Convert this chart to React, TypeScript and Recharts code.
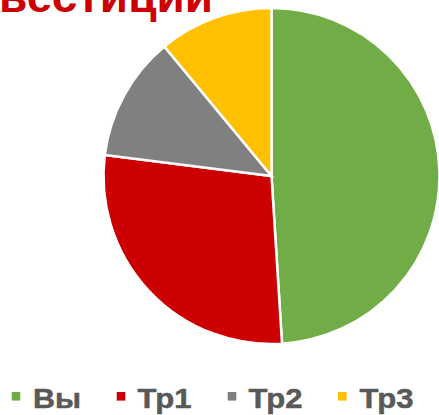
import React from "react";
import { PieChart, Pie, Cell, Legend, Customized } from "recharts";

const categories = ["Вы", "Тр1", "Тр2", "Тр3"];
const values = [49, 28, 12, 11];
const colors = ["#70AD47", "#CC0000", "#808080", "#FFC000"];
const title = "Инвестиции";

const data = categories.map((name, i) => ({ name, value: values[i], color: colors[i] }));

const Title = () => (
  <text
    x={213}
    y={12}
    textAnchor="end"
    fill="#CC0000"
    fontFamily="'Liberation Sans', Arial, sans-serif"
    fontWeight="bold"
    fontSize={46}
  >
    {title}
  </text>
);

// legend layout (square x, text start x, text width)
const legendSquareX = [11.7, 116.7, 227.7, 338];
const legendTextX = [33, 137.5, 248.5, 359.5];
const legendTextW = [48, 54, 54, 54];

const renderLegend = (props: any) => {
  const { payload } = props;
  return (
    <svg width={439} height={35} style={{ display: "block" }}>
      {payload.map((entry: any, i: number) => (
        <g key={i}>
          <rect x={legendSquareX[i]} y={12} width={8.6} height={8.6} fill={entry.color} />
          <text
            x={legendTextX[i]}
            y={27.5}
            textLength={legendTextW[i]}
            lengthAdjust="spacingAndGlyphs"
            fill="#595959"
            stroke="#595959"
            strokeWidth={0.5}
            fontFamily="'Liberation Sans', Arial, sans-serif"
            fontWeight="bold"
            fontSize={28}
          >
            {entry.value}
          </text>
        </g>
      ))}
    </svg>
  );
};

export default function App() {
  return (
    <div style={{ position: "absolute", left: 0, top: 0 }}>
      <PieChart width={439} height={415} margin={{ top: 0, right: 0, bottom: 0, left: 0 }}>
        <Pie
          data={data}
          dataKey="value"
          nameKey="name"
          cx={271.5}
          cy={176}
          outerRadius={168}
          startAngle={90}
          endAngle={-270}
          stroke="#FFFFFF"
          strokeWidth={2.5}
          isAnimationActive={false}
          legendType="square"
        >
          {data.map((d, i) => (
            <Cell key={i} fill={d.color} />
          ))}
        </Pie>
        <Customized component={Title} />
        <Legend
          content={renderLegend}
          wrapperStyle={{ position: "absolute", left: 0, top: 380, width: 439, height: 35 }}
        />
      </PieChart>
    </div>
  );
}
